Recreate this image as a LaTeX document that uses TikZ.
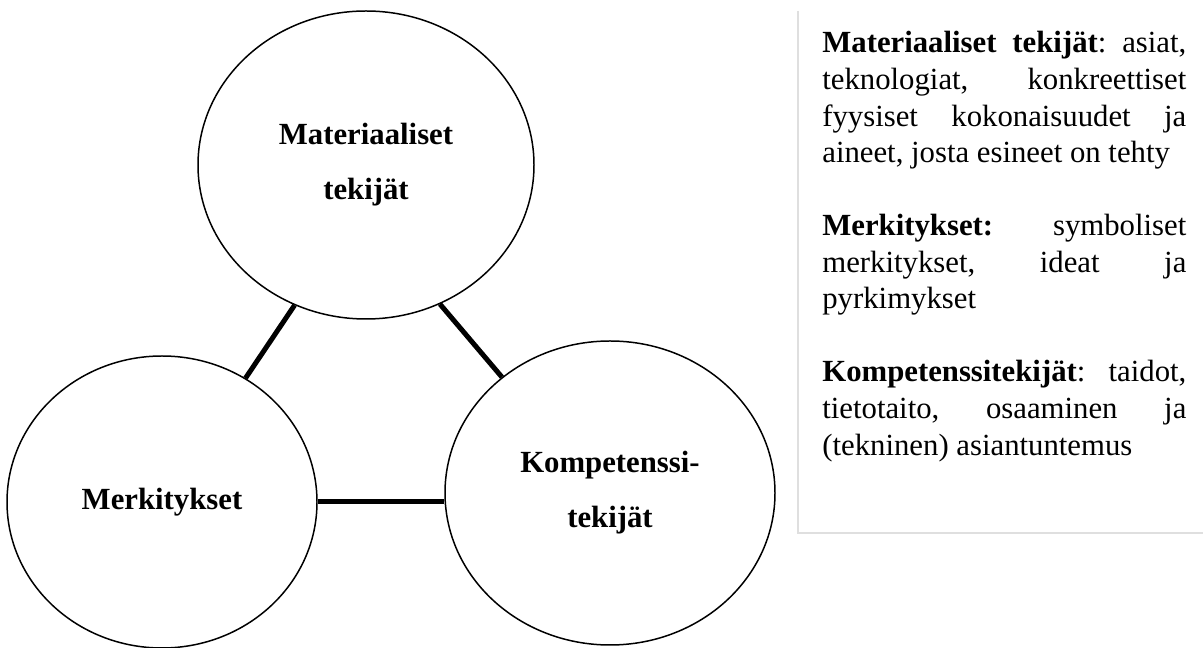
\documentclass[tikz,border=0pt]{standalone}
\usepackage{fontspec}
\setmainfont{Liberation Serif}
\frenchspacing
\usetikzlibrary{shapes.geometric}
\tikzset{
  factor/.style={ellipse,draw,line width=.85pt,inner sep=0pt,align=center,font=\bfseries\fontsize{17.5}{31.3}\selectfont},
  tie/.style={line width=2.85pt},
  frameline/.style={gray!25,line width=.7pt},
  legend/.style={anchor=base west,inner sep=0pt,text width=7.28cm,align=justify,font=\fontsize{17.5}{20.8}\selectfont}
}

\begin{document}
\begin{tikzpicture}[x=1cm,y=1cm]
  \useasboundingbox (0,0) rectangle (24.06,12.96);
  % kolme tekijaa
  \node[factor,minimum width=6.72cm,minimum height=6.16cm] (mat) at (7.32,9.66) {Materiaaliset\\tekijät};
  \node[factor,minimum width=6.2cm,minimum height=5.84cm] (merk) at (3.24,2.92) {Merkitykset};
  \node[factor,minimum width=6.6cm,minimum height=6.08cm] (komp) at (12.2,3.10) {Kompetenssi-\\tekijät};
  \draw[tie] (mat.243) -- (merk.56);
  \draw[tie] (mat.298) -- (komp.133);
  \draw[tie] (merk.east) -- (merk.east -| komp.west);

  % selitteet
  \coordinate (fa) at (15.96,12.74); \coordinate (fb) at (15.96,2.30); \coordinate (fc) at (24.06,2.30);
  \draw[frameline] (fa) -- (fb) -- (fc);
  \node[legend] (txt) at (16.44,11.90) {%
    \textbf{Materiaaliset tekijät}: asiat,\linebreak
    teknologiat, konkreettiset\linebreak
    fyysiset kokonaisuudet ja\linebreak
    aineet, josta esineet on tehty\par\vspace{20.8pt}
    \textbf{Merkitykset:} symboliset\linebreak
    merkitykset, ideat ja\linebreak
    pyrkimykset\par\vspace{20.8pt}
    \textbf{Kompetenssitekijät}: taidot,\linebreak
    tietotaito, osaaminen ja\linebreak
    (tekninen) asiantuntemus};
\end{tikzpicture}
\end{document}
